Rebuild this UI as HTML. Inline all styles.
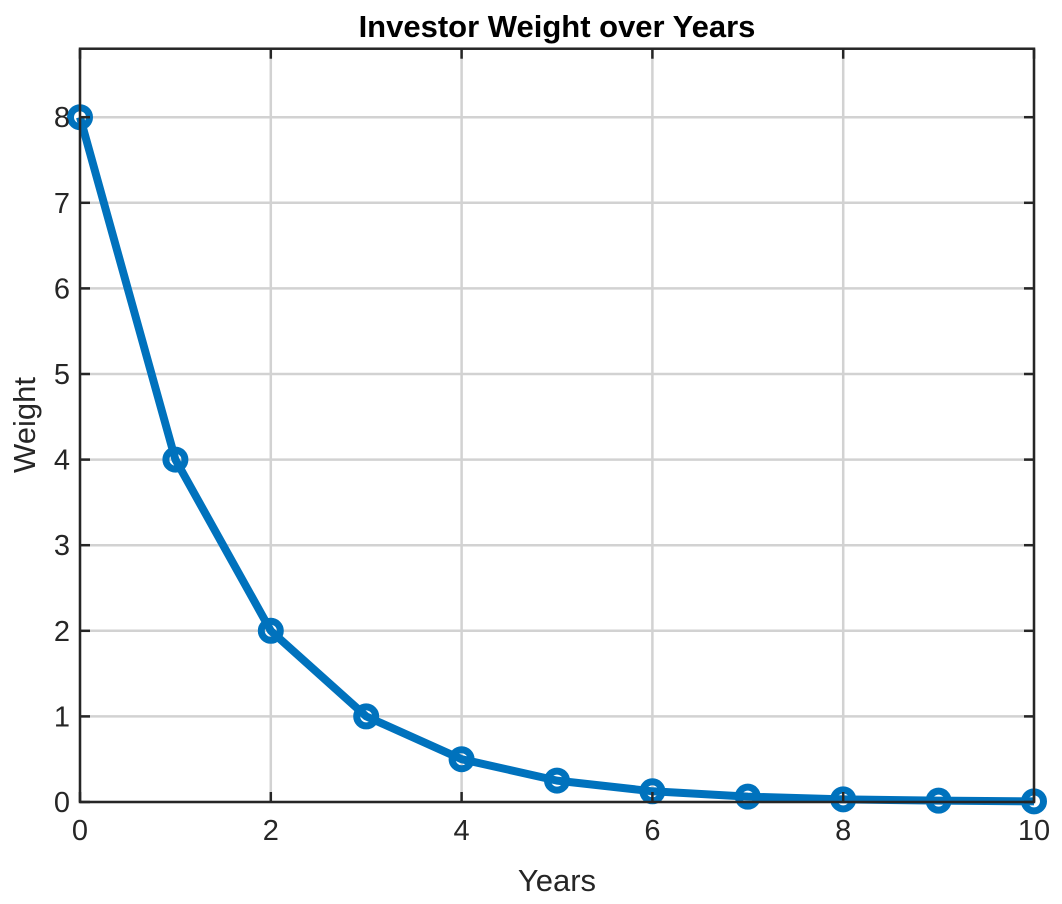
<!DOCTYPE html>
<html><head><meta charset="utf-8"><style>
body{margin:0;background:#fff;}
svg{display:block;font-family:"Liberation Sans",sans-serif;}
</style></head><body>
<svg id="chart" width="1062" height="904">
<rect x="0" y="0" width="1062" height="904" fill="#fff"/>
<g id="grid"></g><g id="series"></g><g id="axes"></g>
<text x="557" y="37" text-anchor="middle" font-size="31" font-weight="bold" fill="#000">Investor Weight over Years</text>
<text x="557" y="891" text-anchor="middle" font-size="31" fill="#262626">Years</text>
<text transform="translate(35,425) rotate(-90)" text-anchor="middle" font-size="31" fill="#262626">Weight</text>
</svg>
<script>
const years=[0,1,2,3,4,5,6,7,8,9,10];
const weights=[8,4,2,1,0.5,0.25,0.125,0.0625,0.03125,0.015625,0.0078125];
const xTicks=[0,2,4,6,8,10];
const yTicks=[0,1,2,3,4,5,6,7,8];
const NS="http://www.w3.org/2000/svg";
const X0=80,X1=1034,Y0=802,YMAX=8.8,PX=85.6;
const xs=v=>X0+(v-0)/10*(X1-X0);
const ys=v=>Y0-v*PX;
const YT=ys(YMAX);
function mk(t,a,p){const e=document.createElementNS(NS,t);for(const k in a)e.setAttribute(k,a[k]);p.appendChild(e);return e;}
const grid=document.getElementById('grid'),axes=document.getElementById('axes'),ser=document.getElementById('series');
xTicks.forEach(v=>{
 const g=mk('line',{x1:xs(v),x2:xs(v),y1:YT,y2:Y0,stroke:'#d2d2d2','stroke-width':2.5},grid);
 
 
 [[Y0,Y0-10],[YT,YT+10]].forEach(([a,b])=>{const t=mk('line',{x1:xs(v),x2:xs(v),y1:a,y2:b,stroke:'#262626','stroke-width':2.5},axes);
 
 });
 const l=mk('text',{x:xs(v),y:Y0+38,'text-anchor':'middle','font-size':29,fill:'#262626'},axes);l.textContent=v;
 
 
});
yTicks.forEach(v=>{
 const g=mk('line',{x1:X0,x2:X1,y1:ys(v),y2:ys(v),stroke:'#d2d2d2','stroke-width':2.5},grid);
 
 
 [[X0,X0+10],[X1,X1-10]].forEach(([a,b])=>{const t=mk('line',{x1:a,x2:b,y1:ys(v),y2:ys(v),stroke:'#262626','stroke-width':2.5},axes);
 
 });
 const l=mk('text',{x:X0-10,y:ys(v)+10,'text-anchor':'end','font-size':29,fill:'#262626'},axes);l.textContent=v;
 
 
});
const box=mk('rect',{x:X0,y:YT,width:X1-X0,height:Y0-YT,fill:'none',stroke:'#262626','stroke-width':2.5},axes);


const pl=mk('polyline',{points:years.map((y,i)=>xs(y)+','+ys(weights[i])).join(' '),fill:'none',stroke:'#0072BD','stroke-width':8,'stroke-linejoin':'round'},ser);


years.forEach((y,i)=>{const c=mk('circle',{cx:xs(y),cy:ys(weights[i]),r:9.5,fill:'none',stroke:'#0072BD','stroke-width':7},ser);
 
 });
</script>
</body></html>
